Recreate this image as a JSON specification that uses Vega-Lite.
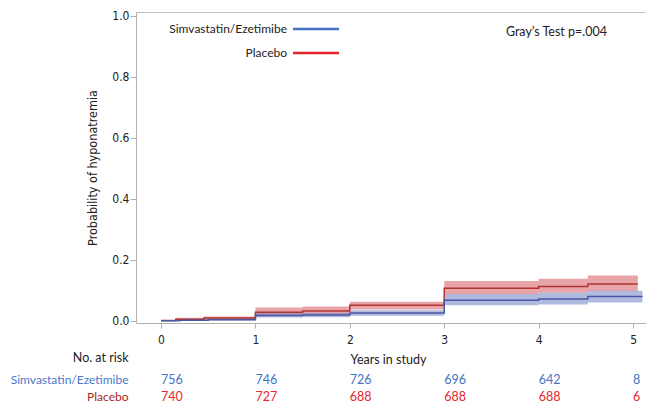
{
  "$schema": "https://vega.github.io/schema/vega-lite/v6.json",
  "padding": {"left": 10, "top": 9, "right": 0, "bottom": 0},
  "background": "white",
  "config": {"view": {"stroke": null}, "font": "Lato", "axis": {"grid": false}},
  "datasets": {
    "curves": [
      {"group": "Placebo", "t": 0, "est": 0.001, "lo": 0.0, "hi": 0.003},
      {"group": "Placebo", "t": 0.156, "est": 0.0056, "lo": 0.002, "hi": 0.010},
      {"group": "Placebo", "t": 0.455, "est": 0.009, "lo": 0.004, "hi": 0.014},
      {"group": "Placebo", "t": 1.0, "est": 0.0285, "lo": 0.016, "hi": 0.044},
      {"group": "Placebo", "t": 1.5, "est": 0.032, "lo": 0.019, "hi": 0.047},
      {"group": "Placebo", "t": 2.0, "est": 0.051, "lo": 0.037, "hi": 0.063},
      {"group": "Placebo", "t": 3.0, "est": 0.107, "lo": 0.087, "hi": 0.131},
      {"group": "Placebo", "t": 4.0, "est": 0.113, "lo": 0.092, "hi": 0.138},
      {"group": "Placebo", "t": 4.52, "est": 0.121, "lo": 0.098, "hi": 0.149},
      {"group": "Placebo", "t": 5.05, "est": 0.121, "lo": 0.098, "hi": 0.149},
      {"group": "Simvastatin/Ezetimibe", "t": 0, "est": 0.0005, "lo": 0.0, "hi": 0.002},
      {"group": "Simvastatin/Ezetimibe", "t": 0.2, "est": 0.002, "lo": 0.0, "hi": 0.005},
      {"group": "Simvastatin/Ezetimibe", "t": 0.5, "est": 0.004, "lo": 0.001, "hi": 0.008},
      {"group": "Simvastatin/Ezetimibe", "t": 1.0, "est": 0.018, "lo": 0.011, "hi": 0.026},
      {"group": "Simvastatin/Ezetimibe", "t": 1.5, "est": 0.019, "lo": 0.012, "hi": 0.027},
      {"group": "Simvastatin/Ezetimibe", "t": 2.0, "est": 0.026, "lo": 0.017, "hi": 0.035},
      {"group": "Simvastatin/Ezetimibe", "t": 3.0, "est": 0.068, "lo": 0.051, "hi": 0.088},
      {"group": "Simvastatin/Ezetimibe", "t": 4.0, "est": 0.072, "lo": 0.054, "hi": 0.092},
      {"group": "Simvastatin/Ezetimibe", "t": 4.52, "est": 0.080, "lo": 0.060, "hi": 0.099},
      {"group": "Simvastatin/Ezetimibe", "t": 5.1, "est": 0.080, "lo": 0.060, "hi": 0.099}
    ],
    "risk": [
      {"group": "Simvastatin/Ezetimibe", "t": 0, "n": 756},
      {"group": "Simvastatin/Ezetimibe", "t": 1, "n": 746},
      {"group": "Simvastatin/Ezetimibe", "t": 2, "n": 726},
      {"group": "Simvastatin/Ezetimibe", "t": 3, "n": 696},
      {"group": "Simvastatin/Ezetimibe", "t": 4, "n": 642},
      {"group": "Simvastatin/Ezetimibe", "t": 5, "n": 8},
      {"group": "Placebo", "t": 0, "n": 740},
      {"group": "Placebo", "t": 1, "n": 727},
      {"group": "Placebo", "t": 2, "n": 688},
      {"group": "Placebo", "t": 3, "n": 688},
      {"group": "Placebo", "t": 4, "n": 688},
      {"group": "Placebo", "t": 5, "n": 6}
    ]
  },
  "spacing": 48,
  "bounds": "flush",
  "vconcat": [
    {
      "width": 510,
      "height": 311,
      "data": {"name": "curves"},
      "title": {"text": "Gray’s Test p=.004", "orient": "top", "anchor": "end", "frame": "group", "offset": -35, "baseline": "middle", "dx": -39, "fontSize": 12.5, "font": "Lato", "fontWeight": "normal", "color": "#222222"},
      "layer": [
        {
          "mark": {"type": "area", "interpolate": "step-after", "opacity": 0.6},
          "encoding": {
            "x": {"field": "t", "type": "quantitative",
              "scale": {"domain": [-0.265, 5.137], "nice": false, "zero": false},
              "axis": {"values": [0, 1, 2, 3, 4, 5], "format": "d", "tickSize": 5, "tickColor": "#b0b0b0", "domainColor": "#b0b0b0", "labelPadding": 6, "labelFontSize": 12, "labelFont": "Liberation Sans Narrow, DejaVu Sans Condensed, sans-serif", "labelColor": "#222222", "title": "Years in study", "titleX": 214, "titleY": 36, "titleAlign": "left", "titleBaseline": "middle", "titleFont": "Lato", "titleFontSize": 12.5, "titleFontWeight": "normal", "titleColor": "#222222"}},
            "y": {"field": "lo", "type": "quantitative", "stack": null,
              "scale": {"domain": [-0.007, 1.013], "nice": false, "zero": false},
              "axis": {"values": [0, 0.2, 0.4, 0.6, 0.8, 1.0], "format": ".1f", "tickSize": 6, "tickColor": "#b0b0b0", "domainColor": "#b0b0b0", "labelPadding": 1, "labelFontSize": 12, "labelFont": "Liberation Sans Narrow, DejaVu Sans Condensed, sans-serif", "labelColor": "#222222", "title": "Probability of hyponatremia", "titleX": -44, "titleY": 155.5, "titleAngle": -90, "titleAlign": "center", "titleBaseline": "middle", "titleFont": "Liberation Sans Narrow, DejaVu Sans Condensed, sans-serif", "titleFontSize": 12.5, "titleFontWeight": "normal", "titleColor": "#222222"}},
            "y2": {"field": "hi"},
            "fill": {"field": "group", "type": "nominal", "scale": {"domain": ["Placebo", "Simvastatin/Ezetimibe"], "range": ["#d9686b", "#7c8cc8"]}, "legend": null}
          }
        },
        {
          "mark": {"type": "line", "interpolate": "step-after", "strokeWidth": 1.5},
          "encoding": {
            "x": {"field": "t", "type": "quantitative", "axis": null},
            "y": {"field": "est", "type": "quantitative", "stack": null},
            "stroke": {"field": "group", "type": "nominal", "scale": {"domain": ["Placebo", "Simvastatin/Ezetimibe"], "range": ["#b03436", "#4a57a2"]}, "legend": null}
          }
        },
        {
          "transform": [{"filter": "datum.t < -1"}],
          "mark": {"type": "rule"},
          "encoding": {
            "x": {"field": "t", "type": "quantitative", "axis": {"orient": "top", "labels": false, "ticks": false, "domain": true, "domainColor": "#c0c0c0", "title": null, "grid": false}},
            "y": {"field": "est", "type": "quantitative"},
            "color": {"field": "group", "type": "nominal",
              "scale": {"domain": ["Simvastatin/Ezetimibe", "Placebo"], "range": ["#4472c4", "#e8262b"]},
              "legend": {"orient": "none", "legendX": 168.5, "legendY": 5.5, "title": null, "symbolType": "M-2.3,0H2.3", "symbolSize": 400, "symbolStrokeWidth": 2.5, "symbolOpacity": 1, "labelAlign": "right", "labelOffset": -40.5, "labelFontSize": 12, "labelFont": "Lato", "labelColor": "#222222", "rowPadding": 6, "padding": 0, "labelLimit": 300}}
          }
        }
      ],
      "resolve": {"axis": {"x": "independent"}}
    },
    {
      "width": 510,
      "height": 34,
      "data": {"name": "risk"},
      "mark": {"type": "text", "align": "left", "baseline": "middle", "fontSize": 12.5, "font": "Lato"},
      "encoding": {
        "x": {"field": "t", "type": "quantitative", "scale": {"domain": [-0.265, 5.137], "nice": false, "zero": false}, "axis": null},
        "y": {"field": "group", "type": "nominal", "scale": {"domain": ["Simvastatin/Ezetimibe", "Placebo"], "padding": 0.5},
          "axis": {"domain": false, "ticks": false, "labelPadding": 8, "labelFontSize": 12, "labelFont": "Lato", "labelLimit": 300,
            "labelColor": {"condition": {"test": "datum.value == 'Placebo'", "value": "#ad1f24"}, "value": "#4a78cc"},
            "title": "No. at risk", "titleAngle": 0, "titleAlign": "right", "titleBaseline": "middle", "titleX": -8, "titleY": -14, "titleFontSize": 12.5, "titleFont": "Lato", "titleFontWeight": "normal", "titleColor": "#222222"}},
        "text": {"field": "n", "type": "quantitative"},
        "color": {"field": "group", "type": "nominal", "scale": {"domain": ["Simvastatin/Ezetimibe", "Placebo"], "range": ["#4a78cc", "#ad1f24"]}, "legend": null}
      }
    }
  ]
}
